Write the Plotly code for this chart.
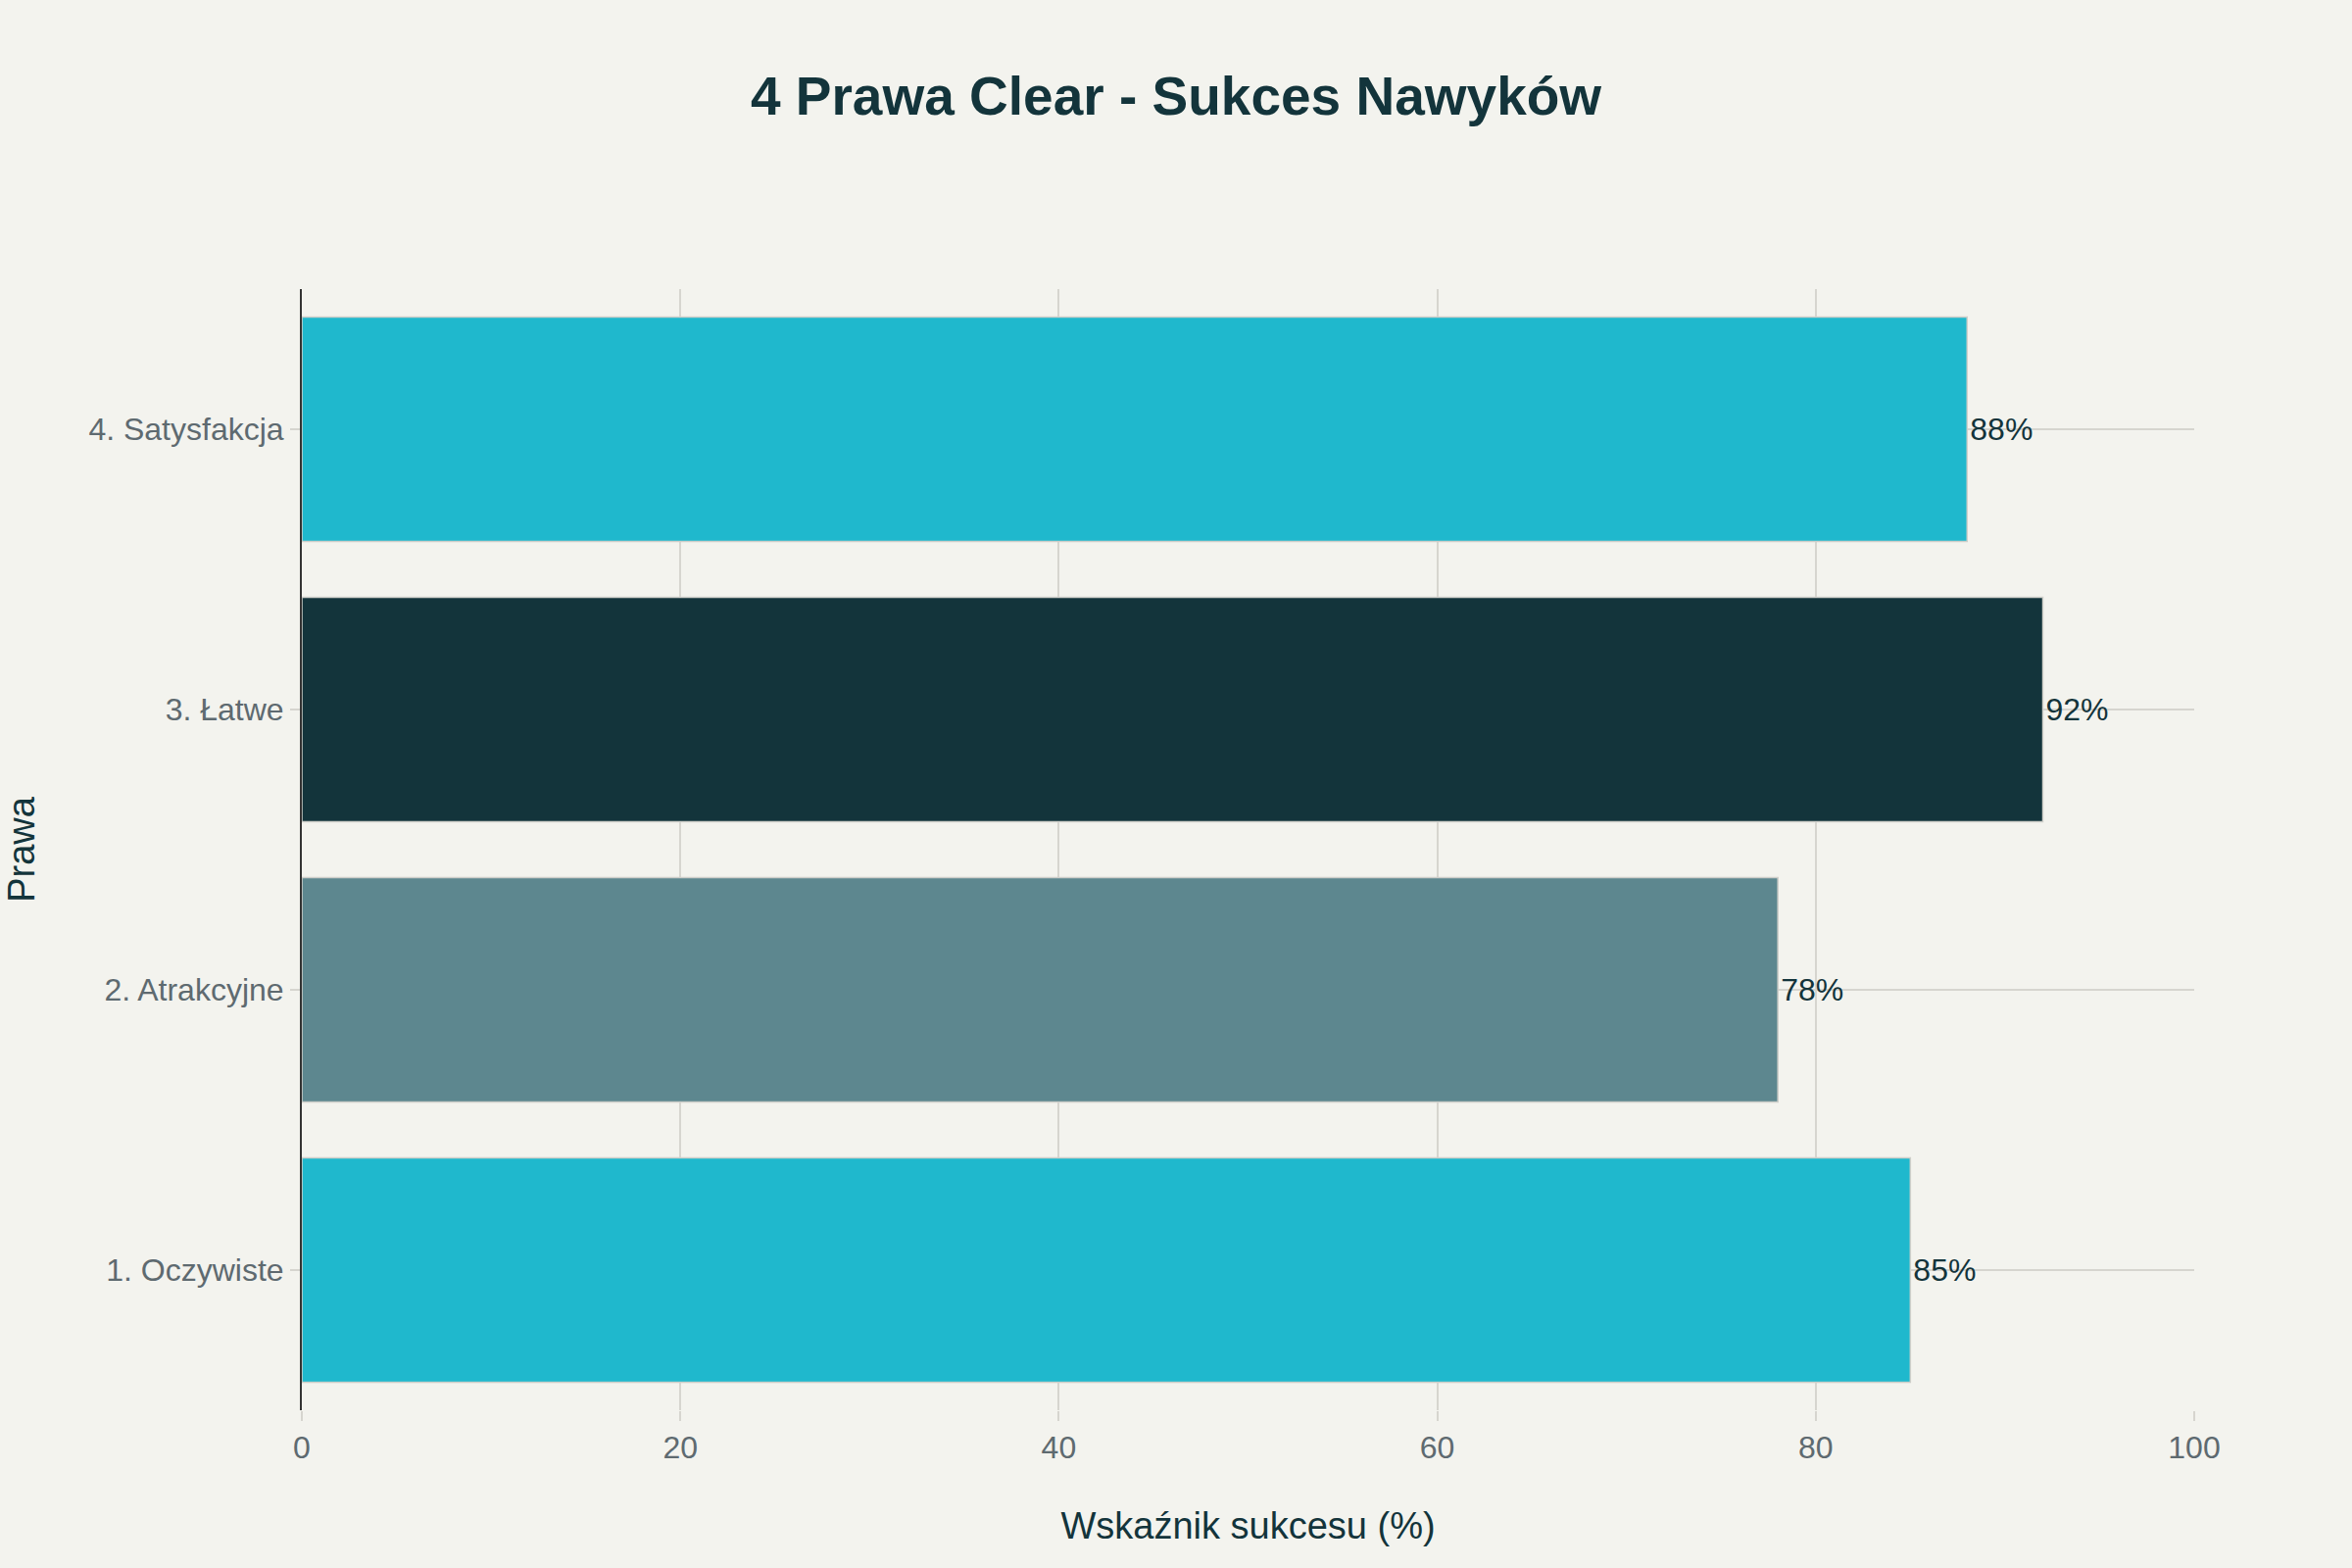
import plotly.graph_objects as go

# Data
prawa = ["1. Oczywiste", "2. Atrakcyjne", "3. Łatwe", "4. Satysfakcja"]
sukces = [85, 78, 92, 88]
kolory = ["#1FB8CD", "#5D878F", "#13343B", "#1FB8CD"]
etykiety = [f"{v}%" for v in sukces]

FONT = "Liberation Sans, Arial, sans-serif"
DARK = "#13343B"
GRID = "#D6D5CF"

fig = go.Figure()

fig.add_trace(go.Bar(
    x=sukces,
    y=prawa,
    orientation='h',
    marker=dict(color=kolory, line=dict(color="#CFCFCA", width=1.5)),
    text=etykiety,
    textposition='outside',
    cliponaxis=False,
    textfont=dict(size=32, color=DARK, family=FONT),
    showlegend=False,
))

fig.update_layout(
    width=2400,
    height=1600,
    title=dict(
        text="<b>4 Prawa Clear - Sukces Nawyków</b>",
        x=0.5,
        xanchor='center',
        y=1 - 98 / 1600,
        yanchor='middle',
        font=dict(size=55, color=DARK, family=FONT),
    ),
    paper_bgcolor="#F3F3EE",
    plot_bgcolor="#F3F3EE",
    bargap=0.2,
    margin=dict(l=308, r=161, t=295, b=161, autoexpand=False),
    font=dict(family=FONT),
    xaxis=dict(
        title=dict(text="Wskaźnik sukcesu (%)", font=dict(size=38, color=DARK), standoff=48),
        range=[0, 100],
        tickvals=[0, 20, 40, 60, 80, 100],
        tickfont=dict(size=32, color="#5E6A70"),
        showgrid=True,
        gridcolor=GRID,
        gridwidth=2,
        zeroline=False,
        showline=False,
        ticks='outside',
        ticklen=10,
        tickwidth=2,
        tickcolor=GRID,
        automargin=False,
    ),
    yaxis=dict(
        title=dict(text="Prawa", font=dict(size=38, color=DARK), standoff=43),
        tickfont=dict(size=32, color="#5E6A70"),
        showgrid=True,
        gridcolor=GRID,
        gridwidth=2,
        showline=True,
        linecolor="#333333",
        linewidth=2,
        ticks='outside',
        ticklen=10,
        tickwidth=2,
        tickcolor=GRID,
        automargin=False,
    ),
)

# remove the default page margin so the figure sits at the window corner
fig.write_html(
    "out.html",
    config={"displayModeBar": False},
    post_script="document.body.style.margin='0';document.body.style.overflow='hidden';",
)
